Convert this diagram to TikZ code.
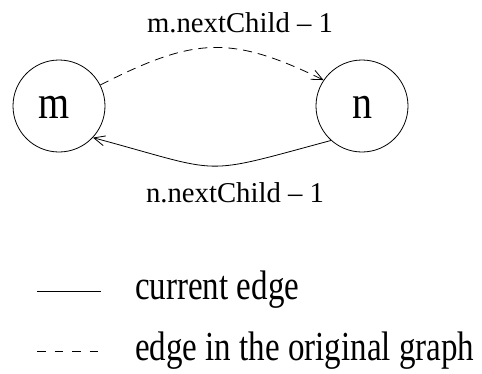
\documentclass[tikz,border=0pt]{standalone}
\usepackage{fontspec}
\usepackage{graphicx}
\setmainfont{Liberation Serif}
\usetikzlibrary{arrows.meta}
\newcommand{\tallbox}[2]{\scalebox{1}[#1]{#2}}
\begin{document}
\begin{tikzpicture}[x=1pt,y=-1pt,
  vertex/.style={draw,circle,line width=0.8pt,minimum size=92pt,inner sep=0pt,font=\fontsize{40}{42}\selectfont},
  lbl/.style={font=\fontsize{28.7}{30}\selectfont,inner sep=0pt,anchor=base},
  legtxt/.style={font=\fontsize{33}{35}\selectfont,inner sep=0pt,anchor=base west},
  edgeline/.style={line width=0.8pt},
  tip/.style={-{Straight Barb[length=11pt,width=10pt,line width=0.8pt]}},
  curdash/.style={dash pattern=on 9pt off 6pt},
  legdash/.style={dash pattern=on 8.5pt off 9pt}]
\useasboundingbox (0,0) rectangle (482,373);
\node[vertex] (m) at (59,106) {};
\node[vertex] (n) at (362,106) {};
\node[font=\fontsize{40}{42}\selectfont,inner sep=0pt,anchor=base] (mt) at (54,118.5) {\tallbox{1.18}{m}};
\node[font=\fontsize{40}{42}\selectfont,inner sep=0pt,anchor=base] (nt) at (362,118.5) {\tallbox{1.18}{n}};
\node[lbl] (lm) at (240,32) {m.nextChild – 1};
\node[lbl] (ln) at (235,202) {n.nextChild – 1};
\draw[edgeline,curdash,tip] (m.27) .. controls +(93,-47) and +(-94,-46) .. (n.146);
\draw[edgeline,tip] (n.228) .. controls +(-134,36) and +(134,36) .. (m.317);
% legend
\coordinate (s1) at (37,291);
\coordinate (s2) at (101,291);
\draw[edgeline] (s1) -- (s2);
\node[legtxt] (t1) at (135,299) {\tallbox{1.25}{current edge}};
\coordinate (d1) at (37,351);
\coordinate (d2) at (100,351);
\draw[edgeline,legdash] (d1) -- (d2);
\node[legtxt] (t2) at (135,360) {\tallbox{1.25}{edge in the original graph}};
\end{tikzpicture}
\end{document}
